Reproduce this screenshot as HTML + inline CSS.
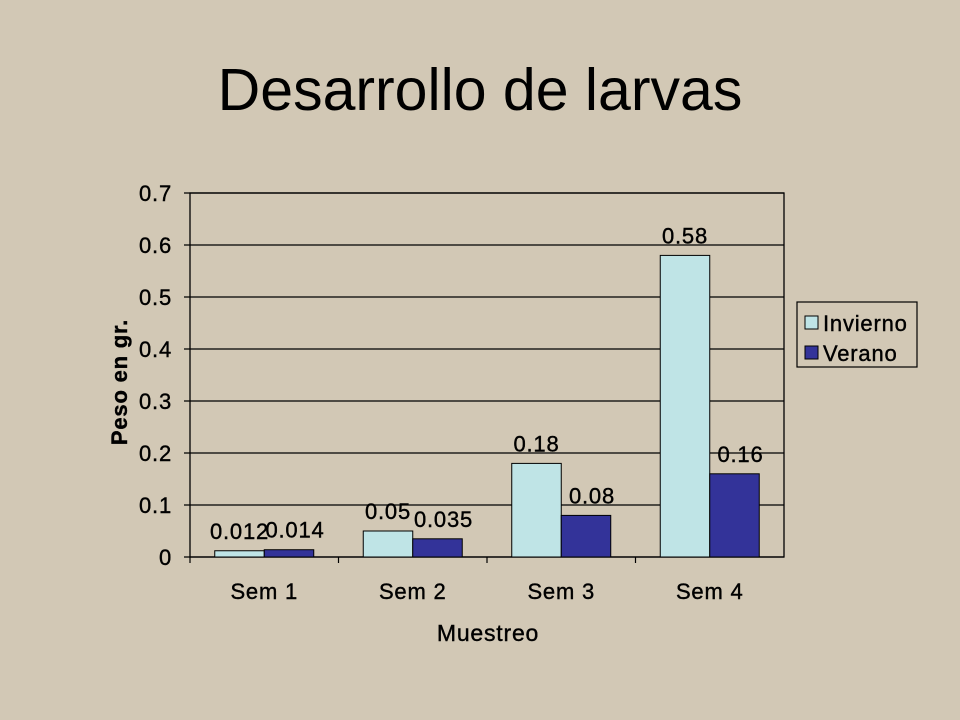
<!DOCTYPE html>
<html><head><meta charset="utf-8"><style>
html,body{margin:0;padding:0;width:960px;height:720px;overflow:hidden;background:#d2c8b5;font-family:"Liberation Sans",Arial,sans-serif}
#title{position:absolute;left:0;width:960px;top:58px;text-align:center;font-size:59px;color:#000;line-height:64px}
svg text{stroke:#000;stroke-width:0.4;letter-spacing:0.8px}
</style></head><body>
<div id="title">Desarrollo de larvas</div>
<svg id="chart" width="960" height="720" style="position:absolute;left:0;top:0"></svg>
<script>
const categories=["Sem 1","Sem 2","Sem 3","Sem 4"];
const invierno=[0.012,0.05,0.18,0.58];
const verano=[0.014,0.035,0.08,0.16];
const valueLabelsInv=["0.012","0.05","0.18","0.58"];
const valueLabelsVer=["0.014","0.035","0.08","0.16"];
const yTicks=[0,0.1,0.2,0.3,0.4,0.5,0.6,0.7];
const yTickLabels=["0","0.1","0.2","0.3","0.4","0.5","0.6","0.7"];

const NS="http://www.w3.org/2000/svg";
const svg=document.getElementById('chart');
const X0=190,X1=784,Y0=557,Y1=193,YMAX=0.7;
const y=v=>Y0-(v/YMAX)*(Y0-Y1);
const band=(X1-X0)/categories.length;
const xc=i=>X0+band*(i+0.5);
const BW=49.5;
function mk(tag,attrs,txt){const e=document.createElementNS(NS,tag);for(const k in attrs)e.setAttribute(k,attrs[k]);if(txt!==undefined)e.textContent=txt;svg.appendChild(e);return e;}

const frame=mk('rect',{x:X0,y:Y1,width:X1-X0,height:Y0-Y1,fill:'none',stroke:'#000','stroke-width':1.3});


yTicks.forEach((t,i)=>{
  const g=mk('line',{x1:X0-6,x2:X1,y1:y(t),y2:y(t),stroke:'#000','stroke-width':1.2});
  
  
  const l=mk('text',{x:X0-18,y:y(t)+8,'text-anchor':'end','font-size':22},yTickLabels[i]);
  
  
});
categories.forEach((c,i)=>{
  const tk=mk('line',{x1:X0+band*i,x2:X0+band*i,y1:Y0,y2:Y0+6,stroke:'#000','stroke-width':1.2});
  
  
  const b1=mk('rect',{x:xc(i)-BW,y:y(invierno[i]),width:BW,height:Y0-y(invierno[i]),fill:'#bfe4e6',stroke:'#000','stroke-width':1});
  
  
  const b2=mk('rect',{x:xc(i),y:y(verano[i]),width:BW,height:Y0-y(verano[i]),fill:'#333399',stroke:'#000','stroke-width':1});
  
  
  const v1=mk('text',{x:xc(i)-BW/2,y:y(invierno[i])-12,'text-anchor':'middle','font-size':22},valueLabelsInv[i]);
  
  
  const v2=mk('text',{x:xc(i)+BW/2+6,y:y(verano[i])-12,'text-anchor':'middle','font-size':22},valueLabelsVer[i]);
  
  
  const xl=mk('text',{x:xc(i),y:599,'text-anchor':'middle','font-size':22},c);
  
  
});
const xt=mk('text',{x:488,y:641,'text-anchor':'middle','font-size':23,'letter-spacing':'2px'},'Muestreo');


const yt=mk('text',{x:0,y:0,'text-anchor':'middle','font-size':22,'font-weight':'bold',transform:'translate(127,382) rotate(-90)'},'Peso en gr.');


const lg=mk('rect',{x:797,y:302,width:120,height:65,fill:'none',stroke:'#000','stroke-width':1.2});


const s1=mk('rect',{x:805,y:316,width:13,height:13,fill:'#bfe4e6',stroke:'#000'});


const t1=mk('text',{x:823,y:331,'font-size':22,'letter-spacing':'1.2px'},'Invierno');


const s2=mk('rect',{x:805,y:346,width:13,height:13,fill:'#333399',stroke:'#000'});


const t2=mk('text',{x:823,y:361,'font-size':22,'letter-spacing':'1.2px'},'Verano');


</script>
</body></html>
